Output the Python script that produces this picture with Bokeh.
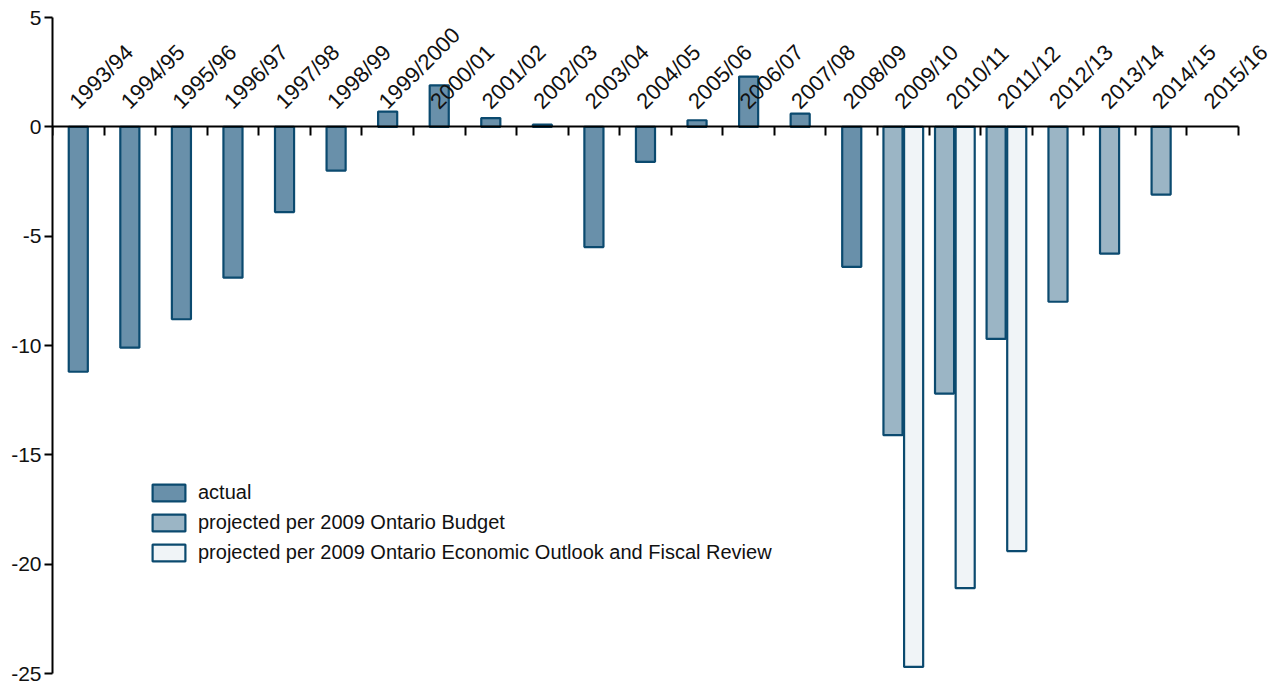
import math
from bokeh.plotting import figure
from bokeh.models import (ColumnDataSource, Range1d, LinearAxis, FixedTicker,
                          Legend, LegendItem)
from bokeh.embed import file_html
from bokeh.resources import INLINE

# ---- data ----
years = ["1993/94", "1994/95", "1995/96", "1996/97", "1997/98", "1998/99",
         "1999/2000", "2000/01", "2001/02", "2002/03", "2003/04", "2004/05",
         "2005/06", "2006/07", "2007/08", "2008/09", "2009/10", "2010/11",
         "2011/12", "2012/13", "2013/14", "2014/15", "2015/16"]
actual = [-11.2, -10.1, -8.8, -6.9, -3.9, -2.0, 0.7, 1.9, 0.4, 0.1, -5.5, -1.6,
          0.3, 2.3, 0.6, -6.4, None, None, None, None, None, None, None]
budget = [None] * 16 + [-14.1, -12.2, -9.7, -8.0, -5.8, -3.1, None]
outlook = [None] * 16 + [-24.7, -21.1, -19.4, None, None, None, None]
y_ticks = [-25, -20, -15, -10, -5, 0, 5]

# ---- style ----
C_ACTUAL = "#6990aa"
C_BUDGET = "#9bb5c5"
C_OUTLOOK = "#f0f4f7"
C_LINE = "#0b4a6f"
FONT = "Liberation Sans"

n = len(years)
has_outlook = [v is not None for v in outlook]


def src(vals, offset_paired):
    xs, tops = [], []
    for i, v in enumerate(vals):
        if v is not None:
            xs.append(i + (offset_paired if has_outlook[i] else 0.0))
            tops.append(v)
    return ColumnDataSource(dict(x=xs, top=tops))


p = figure(width=1280, height=684, output_backend="svg", toolbar_location=None,
           x_range=Range1d(-0.5, 23.16), y_range=Range1d(-25, 5),
           x_axis_location=None, min_border_left=52, min_border_right=8,
           min_border_top=17, min_border_bottom=11)
p.outline_line_color = None
p.xgrid.visible = False
p.ygrid.visible = False

BW = 0.37
r_act = p.vbar(x="x", top="top", bottom=0, width=BW, source=src(actual, 0.0),
               fill_color=C_ACTUAL, line_color=C_LINE, line_width=2.2)
r_bud = p.vbar(x="x", top="top", bottom=0, width=BW, source=src(budget, -0.2),
               fill_color=C_BUDGET, line_color=C_LINE, line_width=2.2)
r_out = p.vbar(x="x", top="top", bottom=0, width=BW, source=src(outlook, 0.2),
               fill_color=C_OUTLOOK, line_color=C_LINE, line_width=2.2)

# y axis
ya = p.yaxis[0]
ya.ticker = FixedTicker(ticks=y_ticks)
ya.major_label_overrides = {t: str(t) for t in y_ticks}
ya.axis_line_width = 2
ya.axis_line_color = "black"
ya.major_tick_line_width = 2
ya.major_tick_line_color = "black"
ya.major_tick_out = 8
ya.major_tick_in = 0
ya.minor_tick_line_color = None
ya.major_label_text_font = FONT
ya.major_label_text_font_size = "21px"
ya.major_label_text_color = "#111111"
ya.major_label_standoff = 3

# x axis drawn at y=0: labels near category centres, ticks at boundaries
LBL_SHIFT = -0.1
label_pos = [i + LBL_SHIFT for i in range(n)]
xa = LinearAxis(fixed_location=0, bounds=(-0.5, n - 0.5),
                ticker=FixedTicker(ticks=label_pos,
                                   minor_ticks=[i - 0.5 for i in range(n + 1)]),
                major_label_overrides={pos: y for pos, y in zip(label_pos, years)})
xa.axis_line_width = 2
xa.axis_line_color = "black"
xa.major_tick_line_color = None
xa.minor_tick_line_width = 2
xa.minor_tick_line_color = "black"
xa.minor_tick_in = 9
xa.minor_tick_out = 0
xa.major_label_orientation = math.pi / 4
xa.major_label_text_font = FONT
xa.major_label_text_font_size = "22px"
xa.major_label_text_color = "#111111"
xa.major_label_standoff = 16
p.add_layout(xa, "above")

legend = Legend(items=[
    LegendItem(label="actual", renderers=[r_act]),
    LegendItem(label="projected per 2009 Ontario Budget", renderers=[r_bud]),
    LegendItem(label="projected per 2009 Ontario Economic Outlook and Fiscal Review",
               renderers=[r_out]),
], location=(96, 109))
legend.border_line_color = None
legend.background_fill_alpha = 0
legend.padding = 0
legend.margin = 0
legend.spacing = 7
legend.glyph_width = 41
legend.glyph_height = 21
legend.label_text_font = FONT
legend.label_text_font_size = "20px"
legend.label_text_color = "#111111"
legend.label_standoff = 9
p.add_layout(legend, "center")

open("out.html", "w").write(file_html(p, INLINE))
